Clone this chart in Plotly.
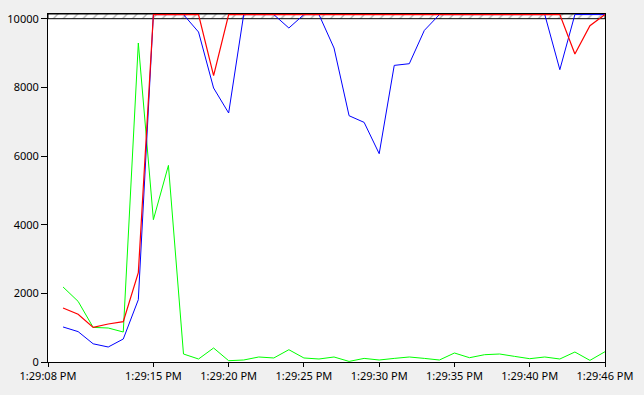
import plotly.graph_objects as go

# seconds after 1:29:00 PM for each sample
seconds = [9, 10, 11, 12, 13, 14, 15, 16, 17, 18, 19, 20, 21, 22, 23, 24, 25, 26, 27,
           28, 29, 30, 31, 32, 33, 34, 35, 36, 37, 38, 39, 40, 41, 42, 43, 44, 45]

TOP = 10120  # values drawn at the chart ceiling (clipped)

blue = [1020, 885, 530, 437, 670, 1815, TOP, TOP, TOP, 9612, 7981, 7253, TOP, TOP, TOP,
        9729, TOP, TOP, 9146, 7174, 6980, 6068, 8640, 8689, 9660, TOP, TOP, TOP, TOP,
        TOP, TOP, TOP, TOP, 8515, TOP, TOP, TOP]
red = [1573, 1390, 1008, 1107, 1174, 2600, TOP, TOP, TOP, TOP, 8340, TOP, TOP, TOP, TOP,
       TOP, TOP, TOP, TOP, TOP, TOP, TOP, TOP, TOP, TOP, TOP, TOP, TOP, TOP,
       TOP, TOP, TOP, TOP, TOP, 8971, 9796, TOP]
green = [2185, 1766, 1008, 990, 874, 9292, 4145, 5727, 233, 87, 408, 38, 58, 146, 117,
         358, 117, 87, 146, 17, 105, 58, 105, 146, 105, 58, 262, 125, 213, 233, 163,
         96, 146, 87, 291, 47, 300]

x_tickvals = [8, 15, 20, 25, 30, 35, 40, 45]
x_ticktext = ["1:29:08 PM", "1:29:15 PM", "1:29:20 PM", "1:29:25 PM",
              "1:29:30 PM", "1:29:35 PM", "1:29:40 PM", "1:29:46 PM"]
y_tickvals = [0, 2000, 4000, 6000, 8000, 10000]

X0, X1 = 8, 45
YMAX = 10137
LIMIT = 10000

fig = go.Figure()

# hatched over-range band
fig.add_trace(go.Scatter(
    x=[X0, X1, X1, X0, X0], y=[LIMIT, LIMIT, YMAX, YMAX, LIMIT],
    mode="lines", fill="toself",
    fillcolor="white",
    fillpattern=dict(shape="/", fgcolor="#707070", bgcolor="white", size=7, solidity=0.2),
    line=dict(color="black", width=1),
    hoverinfo="skip", showlegend=False,
))

fig.add_trace(go.Scatter(x=seconds, y=green, mode="lines",
                         line=dict(color="#00ff00", width=1), showlegend=False))
fig.add_trace(go.Scatter(x=seconds, y=blue, mode="lines",
                         line=dict(color="#0000ff", width=1), showlegend=False))
fig.add_trace(go.Scatter(x=seconds, y=red, mode="lines",
                         line=dict(color="#ff0000", width=1.2), showlegend=False))

font = dict(family="Noto Sans, Open Sans, sans-serif", size=11, color="black")

fig.update_layout(
    width=644, height=395,
    margin=dict(l=48, r=39, t=14, b=33),
    paper_bgcolor="#f0f0f0", plot_bgcolor="white",
    font=font,
    xaxis=dict(range=[X0, X1], tickmode="array", tickvals=x_tickvals, ticktext=x_ticktext,
               showgrid=False, zeroline=False, showline=True, linecolor="black",
               linewidth=1, mirror=True, ticks="outside", ticklen=4, tickcolor="black",
               tickfont=font, automargin=False),
    yaxis=dict(range=[0, YMAX], tickmode="array", tickvals=y_tickvals,
               showgrid=False, zeroline=False, showline=True, linecolor="black",
               linewidth=1, mirror=True, ticks="outside", ticklen=6, tickcolor="black",
               tickfont=font, tickformat="d", automargin=False),
)

fig.write_html("out.html")
